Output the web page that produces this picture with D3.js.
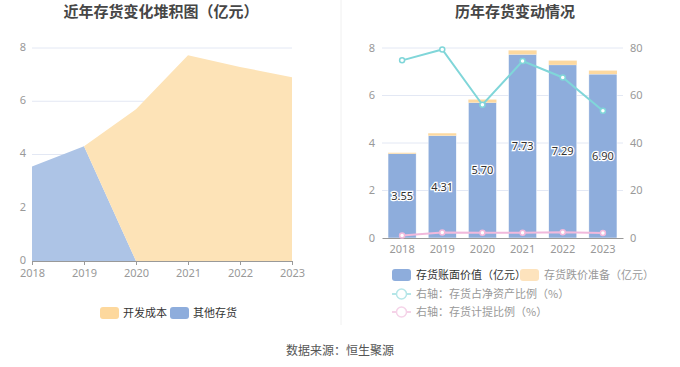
<!DOCTYPE html>
<html>
<head>
<meta charset="utf-8">
<script src="https://cdn.jsdelivr.net/npm/d3@7"></script>
<style>
  body { margin: 0; background: #fff; }
  svg { font-family: "Noto Sans CJK SC", "Noto Sans", sans-serif; }
</style>
</head>
<body>
<div id="chart"></div>
<script>
// data
const years = ["2018", "2019", "2020", "2021", "2022", "2023"];
const devCost = [0, 0, 5.70, 7.73, 7.29, 6.90];        // 开发成本
const otherInv = [3.55, 4.31, 0, 0, 0, 0];              // 其他存货
const bookValue = [3.55, 4.31, 5.70, 7.73, 7.29, 6.90]; // 存货账面价值
const provision = [0.04, 0.10, 0.13, 0.17, 0.18, 0.15]; // 存货跌价准备
const netAssetRatio = [74.8, 79.4, 56.1, 74.5, 67.6, 53.6]; // 存货占净资产比例
const provisionRatio = [1.1, 2.3, 2.2, 2.2, 2.4, 2.1];      // 存货计提比例
const leftTicks = [0, 2, 4, 6, 8];
const rightTicks = [0, 20, 40, 60, 80];

const blue = "#8eaddc", yellow = "#fdd9a0", cyan = "#80d6d9", pink = "#f1b9dc";

const width = 680, height = 367;
const svg = d3.select("#chart").append("svg")
    .attr("width", width)
    .attr("height", height);

// ---------- left chart: stacked area ----------
const x1 = d3.scalePoint().domain(years).range([32, 292]);
const y1 = d3.scaleLinear().domain([0, 8]).range([261, 48]);

svg.append("text")
    .attr("x", 161).attr("y", 17)
    .attr("text-anchor", "middle")
    .attr("font-size", "15px").attr("font-weight", "bold")
    .attr("fill", "#464646")
    .text("近年存货变化堆积图（亿元）");

svg.append("g").selectAll("line")
    .data(leftTicks.slice(1))
    .enter().append("line")
    .attr("x1", 32).attr("x2", 292)
    .attr("y1", d => y1(d)).attr("y2", d => y1(d))
    .attr("stroke", "#e3e8f4");

svg.append("g").selectAll("text")
    .data(leftTicks)
    .enter().append("text")
    .attr("x", 26).attr("y", d => y1(d) - 1)
    .attr("dy", "0.35em")
    .attr("text-anchor", "end")
    .attr("font-size", "11px").attr("fill", "#999")
    .attr("font-family", "'Noto Sans', sans-serif")
    .text(d => d);

const stackData = years.map((y, i) => ({ year: y, other: otherInv[i], dev: devCost[i] }));
const stacked = d3.stack().keys(["other", "dev"])(stackData);
const area = d3.area()
    .x(d => x1(d.data.year))
    .y0(d => y1(d[0]))
    .y1(d => y1(d[1]));

const areaColors = { other: "#adc4e6", dev: "#fde3b7" };
svg.append("g").selectAll("path")
    .data(stacked)
    .enter().append("path")
    .attr("d", area)
    .attr("fill", d => areaColors[d.key]);

const xAxis1 = svg.append("g")
    .attr("transform", `translate(0,${y1(0)})`)
    .call(d3.axisBottom(x1).tickSizeInner(4).tickSizeOuter(0).tickPadding(4));
xAxis1.select(".domain").attr("stroke", "#999");
xAxis1.selectAll(".tick line").attr("stroke", "#999");
xAxis1.selectAll("text").attr("font-size", "11px").attr("fill", "#999")
    .attr("font-family", "'Noto Sans', sans-serif");

// left legend
const leg1 = [{ name: "开发成本", color: "#fdd89d", x: 100 }, { name: "其他存货", color: blue, x: 170 }];
const lg1 = svg.append("g").selectAll("g").data(leg1).enter().append("g");
lg1.append("rect")
    .attr("x", d => d.x).attr("y", 307)
    .attr("width", 19).attr("height", 12).attr("rx", 3)
    .attr("fill", d => d.color);
lg1.append("text")
    .attr("x", d => d.x + 23).attr("y", 313)
    .attr("dy", "0.35em")
    .attr("font-size", "11px").attr("fill", "#333")
    .text(d => d.name);

// divider
svg.append("line")
    .attr("x1", 341).attr("x2", 341).attr("y1", 0).attr("y2", 325)
    .attr("stroke", "#f0f0f0");

// ---------- right chart: bars + lines ----------
const x2 = d3.scaleBand().domain(years).range([382, 623]).paddingInner(0.3).paddingOuter(0.15);
const y2 = d3.scaleLinear().domain([0, 8]).range([238, 48]);
const y3 = d3.scaleLinear().domain([0, 80]).range([238, 48]);

svg.append("text")
    .attr("x", 515).attr("y", 17)
    .attr("text-anchor", "middle")
    .attr("font-size", "15px").attr("font-weight", "bold")
    .attr("fill", "#464646")
    .text("历年存货变动情况");

svg.append("g").selectAll("line")
    .data(leftTicks.slice(1))
    .enter().append("line")
    .attr("x1", 382).attr("x2", 623)
    .attr("y1", d => y2(d)).attr("y2", d => y2(d))
    .attr("stroke", "#e3e8f4");

svg.append("g").selectAll("text")
    .data(leftTicks)
    .enter().append("text")
    .attr("x", 375).attr("y", d => y2(d))
    .attr("dy", "0.35em").attr("text-anchor", "end")
    .attr("font-size", "11px").attr("fill", "#999")
    .attr("font-family", "'Noto Sans', sans-serif")
    .text(d => d);

svg.append("g").selectAll("text")
    .data(rightTicks)
    .enter().append("text")
    .attr("x", 630).attr("y", d => y3(d))
    .attr("dy", "0.35em").attr("text-anchor", "start")
    .attr("font-size", "11px").attr("fill", "#999")
    .attr("font-family", "'Noto Sans', sans-serif")
    .text(d => d);

const barData = years.map((y, i) => ({ year: y, book: bookValue[i], prov: provision[i] }));

svg.append("g").selectAll("rect")
    .data(barData)
    .enter().append("rect")
    .attr("x", d => x2(d.year))
    .attr("y", d => y2(d.book))
    .attr("width", x2.bandwidth())
    .attr("height", d => y2(0) - y2(d.book))
    .attr("fill", blue)
    .attr("stroke", "#fff").attr("stroke-width", 0.5);

svg.append("g").selectAll("rect")
    .data(barData)
    .enter().append("rect")
    .attr("x", d => x2(d.year))
    .attr("y", d => y2(d.book + d.prov))
    .attr("width", x2.bandwidth())
    .attr("height", d => y2(d.book) - y2(d.book + d.prov))
    .attr("fill", yellow);

svg.append("g").selectAll("text")
    .data(barData)
    .enter().append("text")
    .attr("x", d => x2(d.year) + x2.bandwidth() / 2)
    .attr("y", d => y2(d.book / 2))
    .attr("dy", "0.35em").attr("text-anchor", "middle")
    .attr("font-size", "11px").attr("fill", "#333")
    .attr("stroke", "#fff").attr("stroke-width", 2.5)
    .attr("paint-order", "stroke")
    .attr("font-family", "'Noto Sans', sans-serif")
    .text(d => d.book.toFixed(2));

const xAxis2 = svg.append("g")
    .attr("transform", `translate(0,${y2(0)})`)
    .call(d3.axisBottom(x2).tickSize(0).tickPadding(7));
xAxis2.select(".domain").attr("stroke", "#999");
xAxis2.selectAll("text").attr("font-size", "11px").attr("fill", "#999")
    .attr("font-family", "'Noto Sans', sans-serif");

const cx = d => x2(d) + x2.bandwidth() / 2;
const lineSeries = [
    { vals: netAssetRatio, color: cyan },
    { vals: provisionRatio, color: pink }
];
lineSeries.forEach(s => {
    const pts = years.map((y, i) => [cx(y), y3(s.vals[i])]);
    svg.append("path")
        .attr("d", d3.line()(pts))
        .attr("fill", "none")
        .attr("stroke", s.color).attr("stroke-width", 2);
    svg.append("g").selectAll("circle")
        .data(pts)
        .enter().append("circle")
        .attr("cx", d => d[0]).attr("cy", d => d[1])
        .attr("r", 2.5)
        .attr("fill", "#fff")
        .attr("stroke", s.color).attr("stroke-width", 1.5);
});

// right legend
const lg2 = svg.append("g");
const swatches = [
    { name: "存货账面价值（亿元）", color: blue, x: 392, y: 275, text: "#333" },
    { name: "存货跌价准备（亿元）", color: "#fde3bd", x: 520, y: 275, text: "#999" }
];
swatches.forEach(s => {
    lg2.append("rect")
        .attr("x", s.x).attr("y", s.y - 6)
        .attr("width", 19).attr("height", 12).attr("rx", 3)
        .attr("fill", s.color);
    lg2.append("text")
        .attr("x", s.x + 24).attr("y", s.y).attr("dy", "0.35em")
        .attr("font-size", "11px").attr("fill", s.text)
        .text(s.name);
});
const lineLegend = [
    { name: "右轴：存货占净资产比例（%）", color: "#b6e6e8", y: 294 },
    { name: "右轴：存货计提比例（%）", color: "#f5d3e8", y: 312 }
];
lineLegend.forEach(s => {
    lg2.append("line")
        .attr("x1", 392).attr("x2", 411).attr("y1", s.y).attr("y2", s.y)
        .attr("stroke", s.color).attr("stroke-width", 2);
    lg2.append("circle")
        .attr("cx", 401.5).attr("cy", s.y).attr("r", 5)
        .attr("fill", "#fff").attr("stroke", s.color).attr("stroke-width", 1.5);
    lg2.append("text")
        .attr("x", 416).attr("y", s.y).attr("dy", "0.35em")
        .attr("font-size", "11px").attr("fill", "#999")
        .text(s.name);
});

// source
svg.append("text")
    .attr("x", 340).attr("y", 351)
    .attr("dy", "0.35em").attr("text-anchor", "middle")
    .attr("font-size", "12px").attr("fill", "#555")
    .text("数据来源：恒生聚源");
</script>
</body>
</html>
